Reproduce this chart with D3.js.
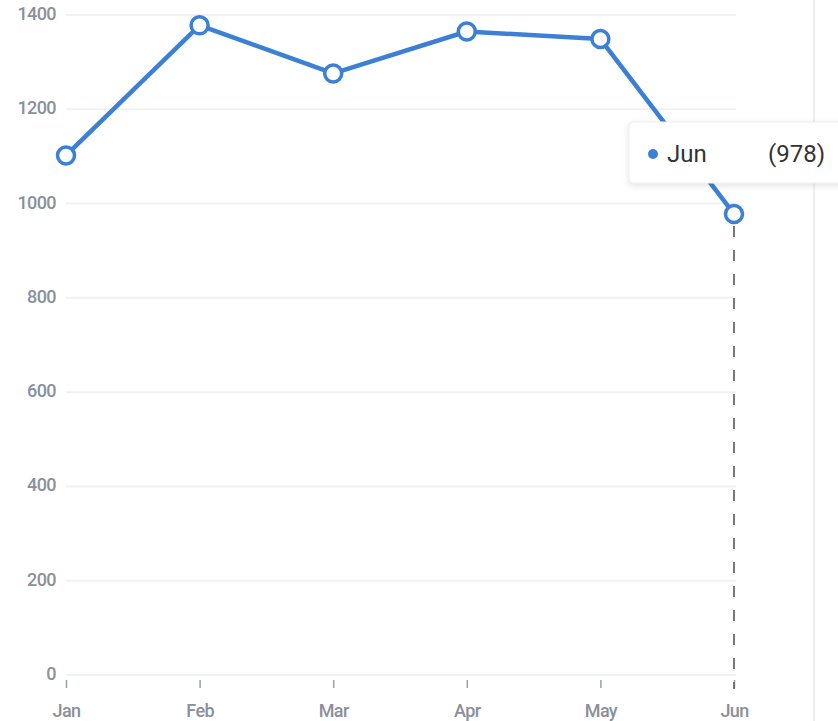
<!DOCTYPE html>
<html>
<head>
<meta charset="utf-8">
<script src="https://cdn.jsdelivr.net/npm/d3@7"></script>
<style>
  html, body { margin: 0; padding: 0; background: #fff; overflow: hidden; }
  svg { display: block; }
  .ax text { font-family: Roboto, "Liberation Sans", sans-serif; fill: #8a909b; letter-spacing: -0.6px; font-weight: 500; }
</style>
</head>
<body>
<svg id="chart" width="838" height="721"></svg>
<script>
var months = ['Jan', 'Feb', 'Mar', 'Apr', 'May', 'Jun']
var values = [1102, 1378, 1276, 1365, 1349, 978]
var yTicks = [0, 200, 400, 600, 800, 1000, 1200, 1400]
var picked = 5 // tooltip on Jun

;(function () {
  var width = 838
  var height = 721
  var margin = {top: 15, left: 66, right: 104, bottom: 46}
  var blue = '#3c7fd6'

  var svg = d3.select('#chart')

  var defs = svg.append('defs')
  var shadow = defs.append('filter').attr('id', 'shadow')
      .attr('x', '-20%').attr('y', '-30%').attr('width', '140%').attr('height', '170%')
  shadow.append('feDropShadow')
      .attr('dx', 0).attr('dy', 2).attr('stdDeviation', 3)
      .attr('flood-color', '#000').attr('flood-opacity', 0.12)

  var mapx = d3.scalePoint()
      .domain(months)
      .range([margin.left, width - margin.right])

  var mapy = d3.scaleLinear()
      .domain([0, 1400])
      .range([height - margin.bottom, margin.top])

  // right border of the panel
  svg.append('line')
      .attr('x1', 814).attr('x2', 814)
      .attr('y1', 0).attr('y2', height)
      .attr('stroke', '#e8e9ec').attr('stroke-width', 1.5)

  /*
      --------------------------------------
      Grid
  */
  svg.append('g').classed('grid', true)
      .selectAll('line')
      .data(yTicks)
      .enter()
      .append('line')
      .attr('x1', margin.left)
      .attr('x2', mapx('Jun') + 2)
      .attr('y1', d => mapy(d))
      .attr('y2', d => mapy(d))
      .attr('stroke', '#eff1f4')
      .attr('stroke-width', 2)

  /*
      --------------------------------------
      Axis Y
  */
  var yAxis = d3.axisLeft(mapy).tickValues(yTicks).tickFormat(d3.format('d'))
      .tickSize(0).tickPadding(10)
  svg.append('g').classed('ax y', true)
      .attr('transform', `translate(${margin.left},0)`)
      .call(yAxis)
      .call(g => g.select('.domain').remove())
      .selectAll('text')
      .attr('font-size', 18)
      .attr('dy', '0.25em')

  /*
      --------------------------------------
      Axis X
  */
  var xAxis = d3.axisBottom(mapx).tickSize(8).tickPadding(14)
  svg.append('g').classed('ax x', true)
      .attr('transform', `translate(0,${mapy(0) + 5})`)
      .call(xAxis)
      .call(g => g.select('.domain').remove())
      .call(g => g.selectAll('.tick line').attr('stroke', '#9aa0a8').attr('stroke-width', 1.5))
      .selectAll('text')
      .attr('font-size', 18)
      .attr('dy', '0.85em')

  /*
      --------------------------------------
      Crosshair for picked point
  */
  svg.append('line')
      .attr('x1', mapx(months[picked])).attr('x2', mapx(months[picked]))
      .attr('y1', mapy(values[picked]) + 12).attr('y2', mapy(0) + 14)
      .attr('stroke', '#6a6a6a').attr('stroke-width', 1.8)
      .attr('stroke-dasharray', '11,13')

  /*
      --------------------------------------
      Line and markers
  */
  var data = months.map((m, i) => ({month: m, value: values[i]}))

  var line = d3.line()
      .x(d => mapx(d.month))
      .y(d => mapy(d.value))

  svg.append('path')
      .datum(data)
      .attr('d', line)
      .attr('fill', 'none')
      .attr('stroke', blue)
      .attr('stroke-width', 4.5)
      .attr('stroke-linejoin', 'round')

  svg.append('g').classed('points', true)
      .selectAll('circle')
      .data(data)
      .enter()
      .append('circle')
      .attr('cx', d => mapx(d.month))
      .attr('cy', d => mapy(d.value))
      .attr('r', 8.5)
      .attr('fill', '#fff')
      .attr('stroke', blue)
      .attr('stroke-width', 3.5)

  /*
      --------------------------------------
      Tooltip
  */
  var tip = svg.append('g')
      .attr('transform', 'translate(629,122)')

  tip.append('rect')
      .attr('width', 220).attr('height', 61)
      .attr('rx', 4)
      .attr('fill', '#fff')
      .attr('stroke', '#eceef1')
      .attr('filter', 'url(#shadow)')

  tip.append('circle')
      .attr('cx', 24).attr('cy', 32).attr('r', 5)
      .attr('fill', blue)

  tip.append('text')
      .attr('x', 38).attr('y', 40)
      .attr('font-family', 'Roboto, sans-serif')
      .attr('font-size', 24)
      .attr('fill', '#333')
      .text(months[picked])

  tip.append('text')
      .attr('x', 196).attr('y', 40)
      .attr('text-anchor', 'end')
      .attr('font-family', 'Roboto, sans-serif')
      .attr('font-size', 24)
      .attr('fill', '#333')
      .text('(' + values[picked] + ')')
})()
</script>
</body>
</html>
